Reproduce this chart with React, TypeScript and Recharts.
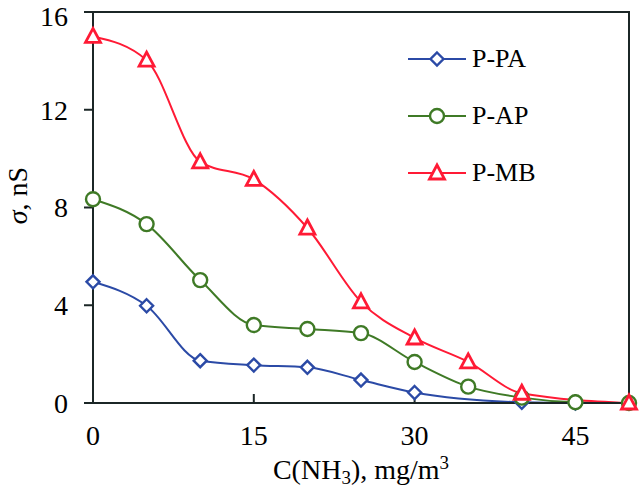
import React from 'react';
import { LineChart, Line, XAxis, YAxis, ReferenceArea, Legend } from 'recharts';

// concentration of NH3, mg/m3
const conc = [0, 5, 10, 15, 20, 25, 30, 35, 40, 45, 50];
// conductivity, nS (null = no marker in the original)
const ppa = [4.96, 3.98, 1.73, 1.55, 1.46, 0.94, 0.43, null, 0.03, 0, 0];
const pap = [8.34, 7.32, 5.03, 3.19, 3.03, 2.86, 1.68, 0.67, 0.22, 0.03, 0];
const pmb = [15.0, 14.03, 9.87, 9.15, 7.16, 4.14, 2.66, 1.68, 0.4, null, 0];

const xTicks = [0, 15, 30, 45];
const yTicks = [0, 4, 8, 12, 16];

const series = [
  { key: 'ppa', name: 'P-PA', color: '#2b4aa6', shape: 'diamond' },
  { key: 'pap', name: 'P-AP', color: '#3f7a26', shape: 'circle' },
  { key: 'pmb', name: 'P-MB', color: '#ff1a35', shape: 'triangle' },
];

const data = conc.map((c, i) => ({ c, ppa: ppa[i], pap: pap[i], pmb: pmb[i] }));

const FONT = "'Liberation Serif', 'Times New Roman', serif";
const AXIS = '#1b2626';

function Marker({ cx, cy, shape, color }: any) {
  if (cx == null || cy == null) return null;
  const common = { fill: '#fff', stroke: color, strokeWidth: 2.4 };
  if (shape === 'diamond') {
    return <polygon {...common} points={`${cx},${cy - 6.5} ${cx + 6.5},${cy} ${cx},${cy + 6.5} ${cx - 6.5},${cy}`} />;
  }
  if (shape === 'circle') {
    return <circle {...common} cx={cx} cy={cy} r={7} />;
  }
  return <polygon {...common} strokeWidth={2.8} points={`${cx},${cy - 8} ${cx + 7.5},${cy + 6} ${cx - 7.5},${cy + 6}`} />;
}

const LegendBox = () => (
  <div style={{ fontFamily: FONT, fontSize: 26, color: '#000' }}>
    {series.map((s) => (
      <div key={s.key} style={{ display: 'flex', alignItems: 'center', height: 57 }}>
        <svg width={60} height={24} style={{ marginRight: 4 }}>
          <line x1={0} y1={12} x2={58} y2={12} stroke={s.color} strokeWidth={2} />
          <Marker cx={29} cy={12} shape={s.shape} color={s.color} />
        </svg>
        <span>{s.name}</span>
      </div>
    ))}
  </div>
);

const YLabel = ({ viewBox }: any) => {
  const x = viewBox.x + 17;
  const y = viewBox.y + viewBox.height / 2 - 12;
  return (
    <text x={x} y={y} transform={`rotate(-90 ${x} ${y})`} textAnchor="middle" dominantBaseline="central"
      fontFamily={FONT} fontSize={28} fill="#000">
      <tspan fontStyle="italic">σ</tspan>
      <tspan>, nS</tspan>
    </text>
  );
};

const XLabel = ({ viewBox }: any) => {
  const x = viewBox.x + viewBox.width / 2;
  const y = viewBox.y + 76;
  return (
    <text x={x} y={y} textAnchor="middle" fontFamily={FONT} fontSize={28} fill="#000">
      <tspan>C(NH</tspan>
      <tspan fontSize={19} dy={5}>3</tspan>
      <tspan dy={-5}>), mg/m</tspan>
      <tspan fontSize={19} dy={-10}>3</tspan>
    </text>
  );
};

export default function App() {
  return (
    <div style={{ position: 'fixed', left: 0, top: 0, width: 640, height: 497, background: '#fff' }}>
      <LineChart width={640} height={497} data={data} margin={{ top: 12, right: 11, left: 0, bottom: 0 }}>
        <XAxis
          dataKey="c"
          type="number"
          domain={[0, 50]}
          ticks={xTicks}
          height={94}
          tickSize={-9}
          tickMargin={31}
          axisLine={{ stroke: AXIS, strokeWidth: 2 }}
          tickLine={{ stroke: AXIS, strokeWidth: 2 }}
          tick={{ fill: '#000', fontSize: 28, fontFamily: FONT }}
          label={{ content: <XLabel /> }}
        />
        <YAxis
          type="number"
          domain={[0, 16]}
          ticks={yTicks}
          width={93}
          tickSize={9}
          tickMargin={16}
          axisLine={{ stroke: AXIS, strokeWidth: 2 }}
          tickLine={{ stroke: AXIS, strokeWidth: 2 }}
          tick={{ fill: '#000', fontSize: 28, fontFamily: FONT }}
          label={{ content: <YLabel /> }}
        />
        <ReferenceArea x1={0} x2={50} y1={0} y2={16} fill="none" fillOpacity={0} stroke={AXIS} strokeWidth={2} strokeOpacity={1} />
        <Legend
          layout="vertical"
          align="center"
          verticalAlign="middle"
          wrapperStyle={{ left: 408, top: 30, width: 180 }}
          content={<LegendBox />}
        />
        {series.map((s) => (
          <Line
            key={s.key}
            dataKey={s.key}
            name={s.name}
            type="monotone"
            stroke={s.color}
            strokeWidth={2}
            connectNulls
            isAnimationActive={false}
            dot={(p: any) => <Marker key={`${s.key}-${p.index}`} cx={p.cx} cy={p.cy} shape={s.shape} color={s.color} />}
            activeDot={false}
          />
        ))}
      </LineChart>
    </div>
  );
}
